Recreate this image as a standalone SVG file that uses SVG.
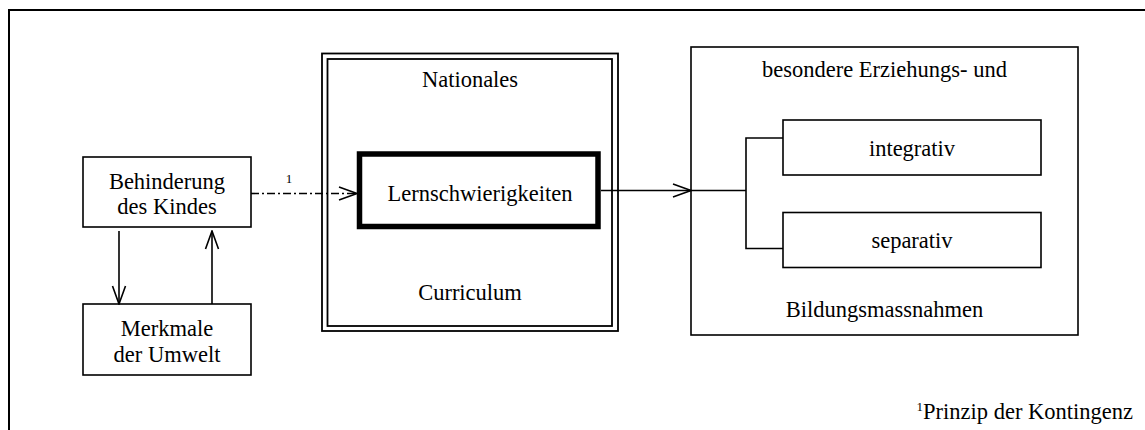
<svg xmlns="http://www.w3.org/2000/svg" width="1145" height="430" viewBox="0 0 1145 430">
<defs>
<style>
.t{font-family:'Liberation Serif','Times New Roman',Times,'DejaVu Serif',serif;font-size:22.5px;fill:#000;text-anchor:middle}
.box{fill:#fff;stroke:#000;stroke-width:1.6}
.ln{fill:none;stroke:#000;stroke-width:1.6}
.sup{font-size:13px}
</style>
<marker id="ah" viewBox="0 0 20 16" refX="19" refY="8" markerWidth="20" markerHeight="16" markerUnits="userSpaceOnUse" orient="auto">
<path d="M1,1.5 L19,8 L1,14.5" fill="none" stroke="#000" stroke-width="1.6"/>
</marker>
</defs>
<rect x="0" y="0" width="1145" height="430" fill="#fff"/>
<rect id="frame" x="9" y="10" width="1150" height="440" fill="none" stroke="#000" stroke-width="2"/>

<g id="n-behinderung">
<rect class="box" x="83" y="157" width="168" height="70"/>
<text class="t" x="167" y="189" font-family="Liberation Serif">Behinderung</text>
<text class="t" x="167" y="214" font-family="Liberation Serif">des Kindes</text>
</g>
<g id="n-merkmale">
<rect class="box" x="83" y="304" width="168" height="71"/>
<text class="t" x="167" y="336">Merkmale</text>
<text class="t" x="167" y="362">der Umwelt</text>
</g>
<g id="n-curriculum">
<rect x="322" y="53.5" width="296" height="277.5" fill="#fff" stroke="#000" stroke-width="1.8"/>
<rect x="327.5" y="59" width="284.5" height="267" fill="none" stroke="#000" stroke-width="1.8"/>
<text class="t" x="470" y="87">Nationales</text>
<text class="t" x="470" y="300">Curriculum</text>
</g>
<g id="n-lern">
<rect x="359.5" y="154" width="238.5" height="72.5" fill="#fff" stroke="#000" stroke-width="5.5"/>
<text class="t" x="480" y="201">Lernschwierigkeiten</text>
</g>
<g id="n-massnahmen">
<rect class="box" x="691" y="47" width="387" height="288"/>
<text class="t" x="884.5" y="77">besondere Erziehungs- und</text>
<text class="t" x="884.5" y="317">Bildungsmassnahmen</text>
</g>
<g id="n-integrativ">
<rect class="box" x="783" y="120" width="258" height="55"/>
<text class="t" x="912" y="156">integrativ</text>
</g>
<g id="n-separativ">
<rect class="box" x="783" y="212.5" width="258" height="55"/>
<text class="t" x="912" y="248">separativ</text>
</g>

<g id="connectors">
<line class="ln" x1="119" y1="231" x2="119" y2="304" marker-end="url(#ah)"/>
<line class="ln" x1="212" y1="304" x2="212" y2="231" marker-end="url(#ah)"/>
<line class="ln" x1="251" y1="193.5" x2="357" y2="193.5" stroke-dasharray="8,3,2,3" marker-end="url(#ah)"/>
<text class="t sup" x="289" y="183">1</text>
<line class="ln" x1="601" y1="190.5" x2="691" y2="190.5" marker-end="url(#ah)"/>
<polyline class="ln" points="691,190.5 746,190.5"/>
<polyline class="ln" points="783,138 746,138 746,248.5 783,248.5"/>
</g>

<g id="footnote">
<text class="t" x="1133" y="419" style="text-anchor:end"><tspan class="sup" dy="-8">1</tspan><tspan dy="8">Prinzip der Kontingenz</tspan></text>
</g>
</svg>
